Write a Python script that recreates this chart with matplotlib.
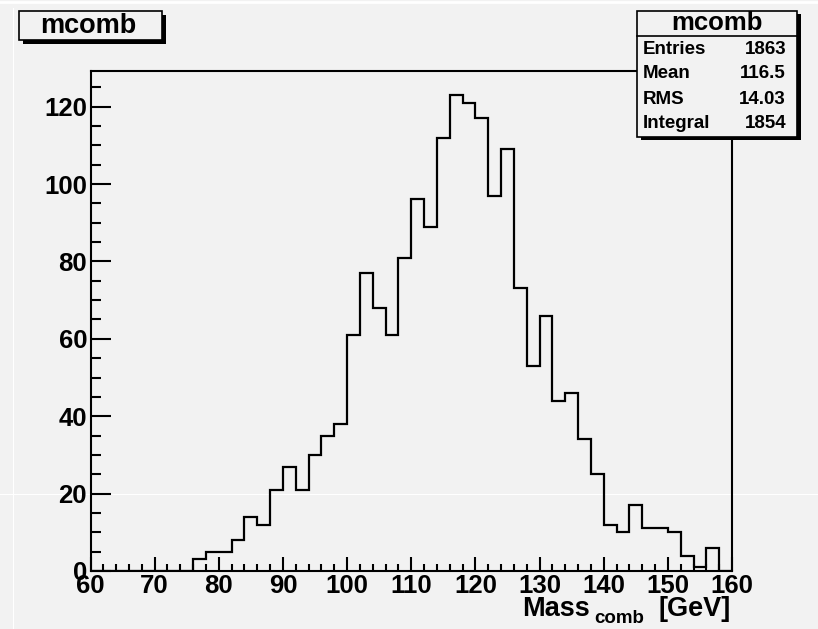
import numpy as np
import matplotlib
matplotlib.use('Agg')
import matplotlib.pyplot as plt
from matplotlib.patches import Rectangle
from matplotlib.ticker import MultipleLocator

# histogram contents, 2 GeV bins from 60 to 160
bin_lo = 60
bin_hi = 160
bin_w = 2
counts = [0, 0, 0, 0, 0, 0, 0, 0, 3, 5,
          5, 8, 14, 12, 21, 27, 21, 30, 35, 38,
          61, 77, 68, 61, 81, 96, 89, 112, 123, 121,
          117, 97, 109, 73, 53, 66, 44, 46, 34, 25,
          12, 10, 17, 11, 11, 10, 4, 1, 6, 0]

hist_name = "mcomb"
stat_names = ["Entries", "Mean", "RMS", "Integral"]
stat_values = ["1863", "116.5", "14.03", "1854"]
xlabel_parts = ["Mass", "comb", "[GeV]"]

W, H = 818, 629
bg = '#f2f2f2'
plt.rcParams['font.family'] = ['Liberation Sans', 'DejaVu Sans']
plt.rcParams['font.weight'] = 'bold'


def fx(x):
    return x / W


def fy(y):
    return 1 - y / H


fig = plt.figure(figsize=(W / 100, H / 100), dpi=100, facecolor=bg)
ax = fig.add_axes([fx(90.5), fy(571), fx(732) - fx(90.5), fy(71) - fy(571)])
ax.set_facecolor(bg)

edges = np.arange(bin_lo, bin_hi + bin_w, bin_w)
ax.stairs(counts, edges, color='black', linewidth=1.6, zorder=3)

ax.set_xlim(bin_lo, bin_hi)
ax.set_ylim(0, 129.2)
ax.xaxis.set_major_locator(MultipleLocator(10))
ax.xaxis.set_minor_locator(MultipleLocator(2))
ax.yaxis.set_major_locator(MultipleLocator(20))
ax.yaxis.set_minor_locator(MultipleLocator(5))
ax.tick_params(axis='both', which='both', direction='in', width=1.5, labelsize=18.5)
ax.tick_params(axis='x', which='major', length=10, pad=2.5)
ax.tick_params(axis='x', which='minor', length=5)
ax.tick_params(axis='y', which='major', length=14.5, pad=2.5)
ax.tick_params(axis='y', which='minor', length=7)
for lab in ax.get_xticklabels() + ax.get_yticklabels():
    lab.set_fontweight('bold')
for sp in ax.spines.values():
    sp.set_linewidth(1.5)

# window border lines of the canvas
ax.plot([0, 1], [fy(493.5), fy(493.5)], color='white', lw=0.8,
        transform=fig.transFigure, clip_on=False, zorder=0.5)
ax.plot([fx(12.5), fx(12.5)], [0, fy(8)], color='white', lw=0.8,
        transform=fig.transFigure, clip_on=False, zorder=0.5)
ax.plot([0, 1], [fy(1.5), fy(1.5)], color='white', lw=2,
        transform=fig.transFigure, clip_on=False, zorder=0.5)

# x axis title, built from pieces to place the subscript
fig.text(fx(522), fy(616), xlabel_parts[0], ha='left', va='baseline',
         fontsize=19.5, fontweight='bold')
fig.text(fx(594), fy(623), xlabel_parts[1], ha='left', va='baseline',
         fontsize=13.5, fontweight='bold')
fig.text(fx(731), fy(616), xlabel_parts[2], ha='right', va='baseline',
         fontsize=19.5, fontweight='bold')


def box(x0, y0, x1, y1, dx, dy):
    fig.add_artist(Rectangle((fx(x0 + dx), fy(y1 + dy)), fx(x1) - fx(x0), fy(y0) - fy(y1),
                             transform=fig.transFigure, facecolor='black',
                             edgecolor='none', zorder=5))
    fig.add_artist(Rectangle((fx(x0), fy(y1)), fx(x1) - fx(x0), fy(y0) - fy(y1),
                             transform=fig.transFigure, facecolor=bg,
                             edgecolor='black', linewidth=1.2, zorder=6))


# title box
box(18.5, 11, 161.5, 39.5, 4, 4)
fig.text(fx(88), fy(26), hist_name, ha='center', va='center', fontsize=19.5,
         fontweight='bold', zorder=7)

# stats box
box(637, 11, 797, 137, 4, 3)
fig.add_artist(plt.Line2D([fx(637), fx(797)], [fy(35.7), fy(35.7)], color='black',
                          lw=1.2, transform=fig.transFigure, zorder=7))
fig.text(fx(717), fy(23.5), hist_name, ha='center', va='center', fontsize=18.5,
         fontweight='bold', zorder=7)
rows_y = [50, 74, 99, 124]
for name, val, yy in zip(stat_names, stat_values, rows_y):
    fig.text(fx(643), fy(yy), name, ha='left', va='center', fontsize=13.5,
             fontweight='bold', zorder=7)
    fig.text(fx(786), fy(yy), val, ha='right', va='center', fontsize=13.5,
             fontweight='bold', zorder=7)

fig.savefig('out.png', dpi=100, facecolor=bg)
